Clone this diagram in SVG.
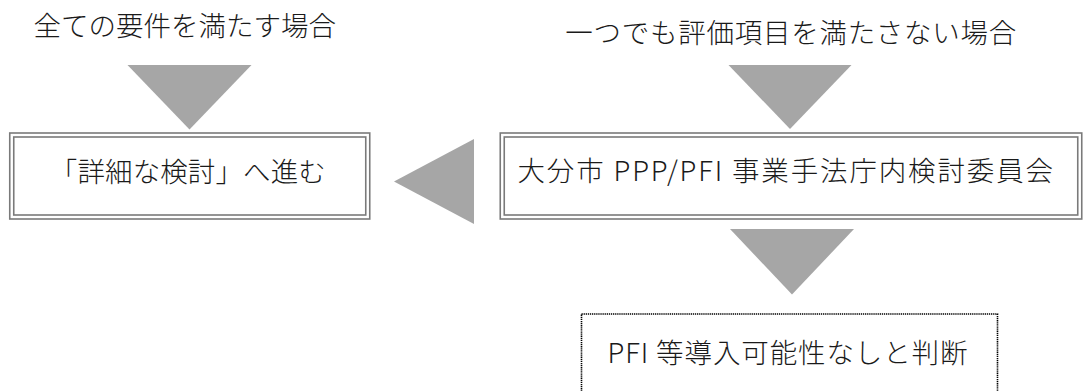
<svg xmlns="http://www.w3.org/2000/svg" width="1083" height="391" viewBox="0 0 1083 391">
  <style>
    .t { font-family: "Noto Sans CJK JP", "Noto Sans", sans-serif; font-size: 27.5px; font-weight: 300; fill: #1a1a1a; }
    .dbl { fill: none; stroke: #7a7a7a; stroke-width: 1.6; }
    .arrow { fill: #a6a6a6; stroke: none; }
    .dot { fill: #ffffff; stroke: #000000; stroke-width: 1.6; stroke-dasharray: 1.3 0.8; }
  </style>
  <rect x="0" y="0" width="1083" height="391" fill="#ffffff"/>

  <g id="label-all">
    <text class="t" x="33.6" y="36" textLength="302.5" lengthAdjust="spacing">全ての要件を満たす場合</text>
  </g>
  <g id="label-any">
    <text class="t" x="565.3" y="43" textLength="451" lengthAdjust="spacing">一つでも評価項目を満たさない場合</text>
  </g>

  <g id="connectors">
    <polygon class="arrow" points="127.5,65 251.5,65 189.5,129.5"/>
    <polygon class="arrow" points="728.5,65 851.5,65 790,129"/>
    <polygon class="arrow" points="474,139 474,224 394,181.5"/>
    <polygon class="arrow" points="730,229 854,229 792,294.5"/>
  </g>

  <g id="node-detail">
    <rect class="dbl" x="9.75" y="133" width="360" height="86"/>
    <rect class="dbl" x="13.75" y="137" width="352" height="78"/>
    <text class="t" x="49.8" y="182" textLength="276" lengthAdjust="spacing">「詳細な検討」へ進む</text>
  </g>

  <g id="node-committee">
    <rect class="dbl" x="500.25" y="133" width="581.5" height="86"/>
    <rect class="dbl" x="504.25" y="137" width="573.5" height="78"/>
    <text class="t" x="517.5" y="181" textLength="535.5" lengthAdjust="spacing">大分市 PPP/PFI 事業手法庁内検討委員会</text>
  </g>

  <g id="node-result">
    <rect class="dot" x="581.5" y="314" width="416" height="90"/>
    <text class="t" x="607.5" y="363" textLength="360" lengthAdjust="spacing">PFI 等導入可能性なしと判断</text>
  </g>
</svg>
